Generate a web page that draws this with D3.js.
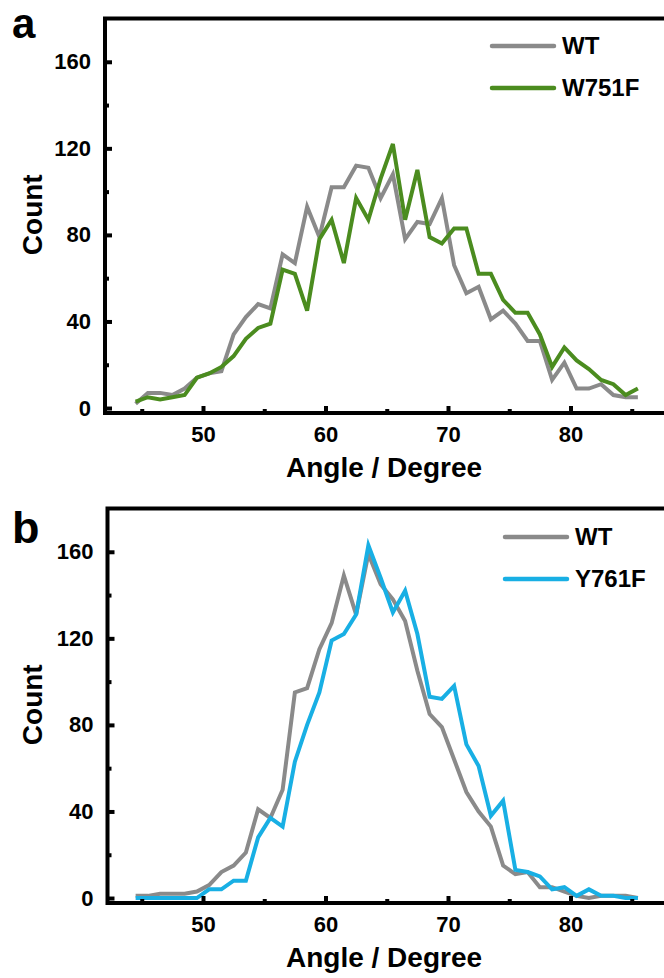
<!DOCTYPE html>
<html>
<head>
<meta charset="utf-8">
<script src="https://cdn.jsdelivr.net/npm/d3@7"></script>
<style>
  body { margin: 0; background: #fff; }
  text { font-family: "Liberation Sans", Arial, sans-serif; font-weight: bold; }
</style>
</head>
<body>
<div id="chart"></div>
<script>
// bin centres (degrees)
const angles = [44.5, 45.5, 46.5, 47.5, 48.5, 49.5, 50.5, 51.5, 52.5, 53.5,
  54.5, 55.5, 56.5, 57.5, 58.5, 59.5, 60.5, 61.5, 62.5, 63.5,
  64.5, 65.5, 66.5, 67.5, 68.5, 69.5, 70.5, 71.5, 72.5, 73.5,
  74.5, 75.5, 76.5, 77.5, 78.5, 79.5, 80.5, 81.5, 82.5, 83.5,
  84.5, 85.5];

// panel a
const wtA = [2, 7, 7, 6, 9, 14, 16, 17, 34, 42,
  48, 46, 71, 67, 93, 79, 102, 102, 112, 111,
  97, 108, 78, 86, 85, 97, 66, 53, 56, 41,
  45, 39, 31, 31, 13, 21, 9, 9, 11, 6,
  5, 5];
const w751f = [3, 5, 4, 5, 6, 14, 16, 19, 24, 32,
  37, 39, 64, 62, 45, 78, 87, 67, 97, 87,
  106, 122, 87, 110, 79, 76, 83, 83, 62, 62,
  50, 44, 44, 34, 19, 28, 22, 18, 13, 11,
  6, 9];

// panel b
const wtB = [1, 1, 2, 2, 2, 3, 6, 12, 15, 21,
  41, 37, 50, 95, 97, 115, 127, 149, 131, 159,
  145, 138, 128, 105, 85, 79, 64, 49, 40, 33,
  15, 11, 12, 5, 5, 3, 1, 0, 1, 1,
  1, 0];
const y761f = [0, 0, 0, 0, 0, 0, 4, 4, 8, 8,
  28, 37, 33, 63, 80, 95, 119, 122, 131, 163,
  148, 132, 142, 122, 93, 92, 98, 71, 61, 38,
  45, 13, 12, 10, 4, 5, 1, 4, 1, 1,
  0, 0];

const xMajor = [50, 60, 70, 80];
const xMinor = [45, 55, 65, 75, 85];
const yMajor = [0, 40, 80, 120, 160];
const yMinor = [20, 60, 100, 140];

const grey = "#8a8a8a";
const green = "#4b8c1f";
const blue = "#18afe4";

const svg = d3.select("#chart")
  .append("svg")
    .attr("width", 664)
    .attr("height", 978);

function drawPanel(opts) {
  const {top, bottom, left, letter, series, legend} = opts;
  const right = 693;

  const x = d3.scaleLinear().domain([42, 90]).range([105, right]);
  const y = d3.scaleLinear().domain([-2.3, 180]).range([bottom, top]);

  const g = svg.append("g");

  // lines
  const line = d3.line()
    .x((d, i) => x(angles[i]))
    .y(d => y(d));
  series.forEach(s => {
    g.append("path")
      .datum(s.values)
      .attr("fill", "none")
      .attr("stroke", s.color)
      .attr("stroke-width", 4)
      .attr("d", line);
  });

  // frame
  g.append("rect")
    .attr("x", left)
    .attr("y", top)
    .attr("width", right - left)
    .attr("height", bottom - top)
    .attr("fill", "none")
    .attr("stroke", "black")
    .attr("stroke-width", 4);

  // X axis
  g.append("g")
    .attr("transform", `translate(0,${bottom})`)
    .call(d3.axisBottom(x).tickValues(xMajor).tickSize(-7).tickSizeOuter(0).tickPadding(13));
  g.append("g")
    .attr("transform", `translate(0,${bottom})`)
    .call(d3.axisBottom(x).tickValues(xMinor).tickSize(-4).tickSizeOuter(0).tickFormat(""));

  // Y axis
  g.append("g")
    .attr("transform", `translate(${left},0)`)
    .call(d3.axisLeft(y).tickValues(yMajor).tickSize(-7).tickSizeOuter(0).tickPadding(14));
  g.append("g")
    .attr("transform", `translate(${left},0)`)
    .call(d3.axisLeft(y).tickValues(yMinor).tickSize(-4).tickSizeOuter(0).tickFormat(""));

  g.selectAll(".domain").remove();
  g.selectAll(".tick line").attr("stroke", "black").attr("stroke-width", 4);
  g.selectAll(".tick text")
    .attr("fill", "black")
    .style("font-size", "22px")
    .style("font-family", "Liberation Sans, Arial, sans-serif")
    .style("font-weight", "bold");

  // axis titles
  g.append("text")
    .attr("x", 384)
    .attr("y", bottom + 64)
    .attr("text-anchor", "middle")
    .style("font-size", "28px")
    .text("Angle / Degree");

  g.append("text")
    .attr("transform", `translate(42,${(top + bottom) / 2 - 1}) rotate(-90)`)
    .attr("text-anchor", "middle")
    .style("font-size", "28px")
    .text("Count");

  g.append("text")
    .attr("x", 12)
    .attr("y", letter.y)
    .style("font-size", letter.size + "px")
    .text(letter.text);

  // legend
  series.forEach((s, i) => {
    const ly = legend.y + i * legend.gap;
    g.append("line")
      .attr("x1", legend.x)
      .attr("x2", legend.x + legend.len)
      .attr("y1", ly)
      .attr("y2", ly)
      .attr("stroke", s.color)
      .attr("stroke-width", 4.5)
      .attr("stroke-linecap", "round");
    g.append("text")
      .attr("x", legend.x + legend.len + 8)
      .attr("y", ly + 8)
      .style("font-size", "24px")
      .text(s.name);
  });
}

drawPanel({
  top: 18.5, bottom: 413, left: 105, letter: {text: "a", y: 38, size: 42},
  series: [
    {name: "WT", values: wtA, color: grey},
    {name: "W751F", values: w751f, color: green}
  ],
  legend: {x: 492, y: 46, gap: 42, len: 62}
});

drawPanel({
  top: 508.5, bottom: 903, left: 107.5, letter: {text: "b", y: 543, size: 45},
  series: [
    {name: "WT", values: wtB, color: grey},
    {name: "Y761F", values: y761f, color: blue}
  ],
  legend: {x: 505, y: 537, gap: 42, len: 62}
});
</script>
</body>
</html>
